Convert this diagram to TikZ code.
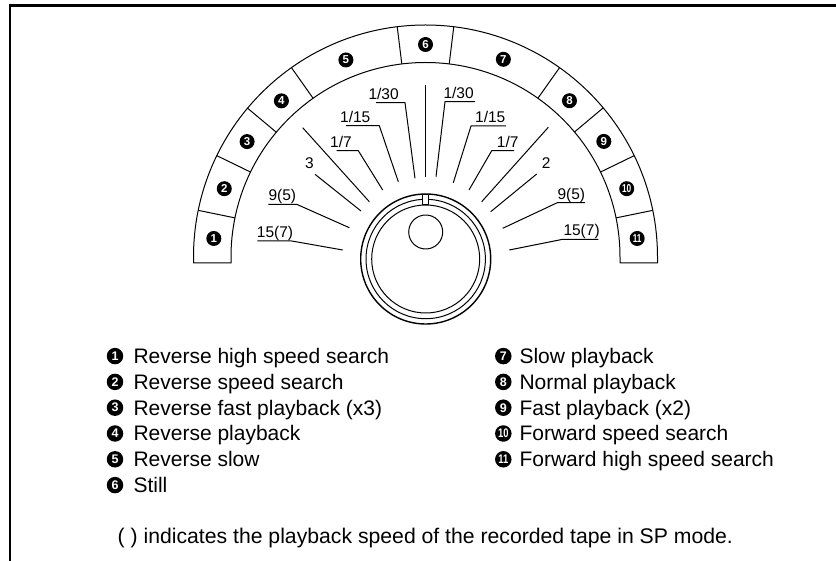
\documentclass[tikz,border=0pt]{standalone}
\usepackage{fontspec}
\setmainfont{Liberation Sans}
\usetikzlibrary{calc}
\begin{document}
\begin{tikzpicture}[x=1pt,y=1pt,
  ln/.style={line width=1pt, line join=round},
  lab/.style={font=\fontsize{15.5}{18}\selectfont, inner sep=0pt, anchor=base west},
  segnum/.style={circle, fill=black, inner sep=0pt, minimum size=15pt, text=white, font=\fontsize{11.5}{12}\selectfont\bfseries},
  legnum/.style={circle, fill=black, inner sep=0pt, minimum size=16.5pt, text=white, font=\fontsize{12.5}{13}\selectfont\bfseries},
  legtxt/.style={font=\fontsize{21}{24}\selectfont, inner sep=0pt, anchor=base west},
]
\useasboundingbox (0,0) rectangle (836,-561);
% frame
\draw[line width=2.8pt, line join=miter] (836,-5.3) -- (10,-5.3) -- (10,-562);

% dial ring
\coordinate (C) at (425.5,-257);
\draw[ln] (193.5,-263) -- (193.5,-257) arc[start angle=180,end angle=0,radius=232]
  -- (657.5,-263) -- (620,-263) -- (620,-257) arc[start angle=0,end angle=180,radius=194.5]
  -- (231,-263) -- cycle;
\foreach \a in {11.6,25.9,40,54.7,83,97,125.3,140.1,154.1,168.4}
  \draw[ln] ($(C)+(\a:194.5)$) -- ($(C)+(\a:232)$);
\foreach \a/\n [count=\i] in {175/1,161.25/2,147.1/3,132.7/4,112/5,90/6,68.5/7,47.35/8,32.95/9}
  \node[segnum] (s\i) at ($(C)+(\a:212.5)$) {\n};
\node[segnum] (s10) at ($(C)+(18.75:212.5)$) {\scalebox{0.72}[1]{10}};
\node[segnum] (s11) at ($(C)+(5:212.5)$) {\scalebox{0.72}[1]{11}};

% knob
\coordinate (K) at (425.7,-259);
\draw[line width=1.4pt] (K) circle[radius=65];
\draw[ln] (K) circle[radius=59.7];
\draw[ln] (K) circle[radius=54];
\draw[ln, fill=white] (422.9,-194.3) rectangle (428.5,-205);
\draw[ln] (425.7,-232) circle[radius=17];

% labels left
\node[lab] (la) at (256.7,-237.5) {15(7)};
\node[lab] (lb) at (268.3,-200.8) {9(5)};
\node[lab] (lc) at (305,-168.3) {3};
\node[lab] (le) at (330,-147.2) {1/7};
\node[lab] (lf) at (340,-122.2) {1/15};
\node[lab] (lg) at (368.3,-99.2) {1/30};
% labels right
\node[lab] (rg) at (443.3,-98.2) {1/30};
\node[lab] (rf) at (475,-122.5) {1/15};
\node[lab] (re) at (496.7,-147.2) {1/7};
\node[lab] (rc) at (541.7,-168.3) {2};
\node[lab] (rb) at (557.3,-199.2) {9(5)};
\node[lab] (ra) at (563.3,-235.8) {15(7)};

% leader coordinates
\coordinate (a1) at (257.3,-241); \coordinate (a2) at (291.7,-241); \coordinate (a3) at (342.7,-250);
\coordinate (b1) at (268.3,-204.3); \coordinate (b2) at (296.7,-204.3); \coordinate (b3) at (349.3,-227.7);
\coordinate (c1) at (315,-174.3); \coordinate (c3) at (361,-211);
\coordinate (d1) at (302.7,-127.7); \coordinate (d3) at (369.3,-201.7);
\coordinate (e1) at (336.7,-150.7); \coordinate (e2) at (358.3,-150.7); \coordinate (e3) at (382.7,-190);
\coordinate (f1) at (346,-125.7); \coordinate (f2) at (379.3,-125.7); \coordinate (f3) at (398.3,-181.7);
\coordinate (g1) at (376,-102.7); \coordinate (g2) at (405,-102.7); \coordinate (g3) at (415,-178.3);
\coordinate (h1) at (425.7,-85); \coordinate (h3) at (425.7,-177.5);
\coordinate (G1) at (475,-101.7); \coordinate (G2) at (445,-101.7); \coordinate (G3) at (436,-176.7);
\coordinate (F1) at (506,-126); \coordinate (F2) at (471,-126); \coordinate (F3) at (453.3,-182.7);
\coordinate (E1) at (514,-150.7); \coordinate (E2) at (491.7,-150.7); \coordinate (E3) at (469,-190);
\coordinate (D1) at (548.3,-127.3); \coordinate (D3) at (481.7,-201.7);
\coordinate (C1) at (536.7,-174); \coordinate (C3) at (490.7,-211.7);
\coordinate (B1) at (585,-202.7); \coordinate (B2) at (557.3,-202.7); \coordinate (B3) at (502.7,-228.3);
\coordinate (A1) at (598.3,-239.3); \coordinate (A2) at (562.7,-239.3); \coordinate (A3) at (509.3,-250);

\draw[ln] (a1) -- (a2) -- (a3);
\draw[ln] (b1) -- (b2) -- (b3);
\draw[ln] (c1) -- (c3);
\draw[ln] (d1) -- (d3);
\draw[ln] (e1) -- (e2) -- (e3);
\draw[ln] (f1) -- (f2) -- (f3);
\draw[ln] (g1) -- (g2) -- (g3);
\draw[ln] (h1) -- (h3);
\draw[ln] (G1) -- (G2) -- (G3);
\draw[ln] (F1) -- (F2) -- (F3);
\draw[ln] (E1) -- (E2) -- (E3);
\draw[ln] (D1) -- (D3);
\draw[ln] (C1) -- (C3);
\draw[ln] (B1) -- (B2) -- (B3);
\draw[ln] (A1) -- (A2) -- (A3);

% legend
\foreach \t [count=\i] in {Reverse high speed search,Reverse speed search,Reverse fast playback (x3),Reverse playback,Reverse slow,Still}{
  \pgfmathsetmacro{\yb}{-363.5-25.8*(\i-1)}
  \node[legnum] (n\i) at (115,\yb+7.4) {\i};
  \node[legtxt] (t\i) at (133.3,\yb) {\t};
}
\foreach \t [count=\i] in {Slow playback,Normal playback,Fast playback (x2)}{
  \pgfmathsetmacro{\yb}{-363.5-25.8*(\i-1)}
  \pgfmathtruncatemacro{\k}{\i+6}
  \node[legnum] (n\k) at (503.3,\yb+7.4) {\k};
  \node[legtxt] (t\k) at (519.3,\yb) {\t};
}
\node[legnum] (n10) at (503.3,-440.9+7.4) {\scalebox{0.75}[1]{10}};
\node[legtxt] (t10) at (519.3,-440.9) {Forward speed search};
\node[legnum] (n11) at (503.3,-466.7+7.4) {\scalebox{0.75}[1]{11}};
\node[legtxt] (t11) at (519.3,-466.7) {Forward high speed search};

\node[legtxt, font=\fontsize{21.2}{24}\selectfont] (note) at (117.5,-543.5) {( ) indicates the playback speed of the recorded tape in SP mode.};
\end{tikzpicture}
\end{document}
